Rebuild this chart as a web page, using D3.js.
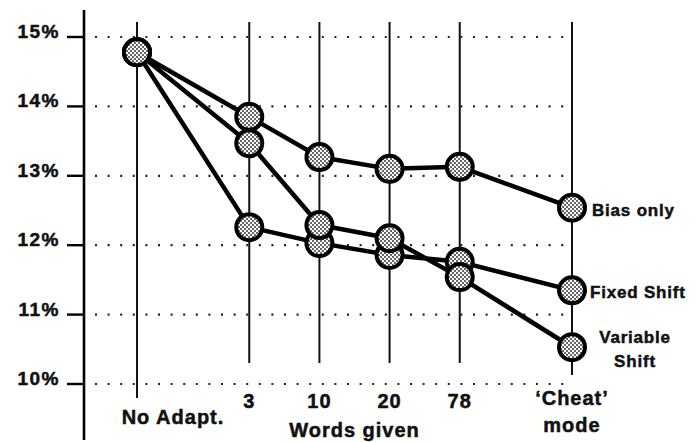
<!DOCTYPE html>
<html lang="en">
<head>
    <meta charset="UTF-8">
    <title>Words given vs error rate</title>
    <script src="https://d3js.org/d3.v7.min.js"></script>
    <style>
        body { margin: 0; background: #fff; }
        text {
            font-family: "Liberation Sans", Arial, Helvetica, sans-serif;
            font-weight: bold;
            fill: #111;
            stroke: #111;
            stroke-width: 0.5px;
        }
        .grid { stroke: #222; stroke-width: 2.2; stroke-dasharray: 2 10.6; }
        .vline { stroke: #111; stroke-width: 2; }
        .series { fill: none; stroke: #000; stroke-width: 4.5; stroke-linejoin: round; }
        .marker { stroke: #000; stroke-width: 4; }
    </style>
</head>
<body>
    <svg width="699" height="442"></svg>

    <script>
      // categories along the bottom (words given)
      const categories = ["No Adapt.", "3", "10", "20", "78", "Cheat"];
      // spacing of the category columns (first and last are wider apart)
      const slots = [0, 1.6, 2.6, 3.6, 4.6, 6.2];

      // error rates in %
      const fixedShift    = [14.78, 12.26, 12.03, 11.86, 11.76, 11.35];
      const variableShift = [14.78, 13.47, 12.29, 12.10, 11.54, 10.53];
      const biasOnly      = [14.78, 13.85, 13.27, 13.10, 13.13, 12.54];

      const yTicks = [10, 11, 12, 13, 14, 15];

      const svg = d3.select("svg");

      const x = d3.scaleLinear().domain([0, 6.2]).range([137, 572]);
      const y = d3.scaleLinear().domain([10, 15]).range([384, 37]);
      const colX = i => x(slots[i]);

      // stipple fill for the circles
      const pat = svg.append("defs").append("pattern")
          .attr("id", "dots")
          .attr("patternUnits", "userSpaceOnUse")
          .attr("width", 4).attr("height", 4);
      pat.append("rect").attr("width", 4).attr("height", 4).attr("fill", "#fff");
      pat.append("circle").attr("cx", 1).attr("cy", 1).attr("r", 1).attr("fill", "#333");
      pat.append("circle").attr("cx", 3).attr("cy", 3).attr("r", 1).attr("fill", "#333");

      // dotted horizontal grid
      svg.selectAll(".grid")
          .data(yTicks)
          .enter().append("line")
          .attr("class", "grid")
          .attr("x1", 95).attr("x2", colX(5))
          .attr("y1", d => y(d)).attr("y2", d => y(d));

      // vertical column lines
      svg.selectAll(".vline")
          .data(categories)
          .enter().append("line")
          .attr("class", "vline")
          .attr("x1", (d, i) => colX(i)).attr("x2", (d, i) => colX(i))
          .attr("y1", 22)
          .attr("y2", (d, i) => i === 0 ? 398 : (i === 5 ? 375 : 363));

      // y axis
      svg.append("line")
          .attr("x1", 84).attr("x2", 84).attr("y1", 10).attr("y2", 440)
          .attr("stroke", "#000").attr("stroke-width", 2.6);

      svg.selectAll(".ytick")
          .data(yTicks)
          .enter().append("line")
          .attr("class", "ytick")
          .attr("x1", 67).attr("x2", 84)
          .attr("y1", d => y(d)).attr("y2", d => y(d))
          .attr("stroke", "#000").attr("stroke-width", 2.4);

      svg.selectAll(".ylabel")
          .data(yTicks)
          .enter().append("text")
          .attr("class", "ylabel")
          .attr("x", 60)
          .attr("y", d => y(d) + 1)
          .attr("text-anchor", "end")
          .style("font-size", "19px")
          .style("letter-spacing", "1.5px")
          .text(d => d + "%");

      // x labels
      const xl = svg.append("g").style("font-size", "20px").style("letter-spacing", "1px");
      xl.append("text").attr("x", colX(0) + 36).attr("y", 424).attr("text-anchor", "middle").text(categories[0]);
      [1, 2, 3, 4].forEach(i => {
          xl.append("text").attr("x", colX(i)).attr("y", 408).attr("text-anchor", "middle").text(categories[i]);
      });
      xl.append("text").attr("x", colX(5)).attr("y", 405).attr("text-anchor", "middle").text("\u2018Cheat\u2019");
      xl.append("text").attr("x", colX(5)).attr("y", 432).attr("text-anchor", "middle").text("mode");
      xl.append("text").attr("x", (colX(2) + colX(3)) / 2).attr("y", 437).attr("text-anchor", "middle").text("Words given");

      // series lines, then markers (drawn in this order)
      const seriesList = [fixedShift, variableShift, biasOnly];
      const line = d3.line().x((d, i) => colX(i)).y(d => y(d));

      svg.selectAll(".series")
          .data(seriesList)
          .enter().append("path")
          .attr("class", "series")
          .attr("d", line);

      seriesList.forEach(s => {
          svg.append("g").selectAll("circle")
              .data(s)
              .enter().append("circle")
              .attr("class", "marker")
              .attr("cx", (d, i) => colX(i))
              .attr("cy", d => y(d))
              .attr("r", 13)
              .attr("fill", "url(#dots)");
      });

      // end labels
      const lg = svg.append("g").style("font-size", "17px").style("letter-spacing", "0.8px");
      lg.append("text").attr("x", colX(5) + 20).attr("y", y(biasOnly[5]) + 8).text("Bias only");
      lg.append("text").attr("x", colX(5) + 18).attr("y", y(fixedShift[5]) + 8).text("Fixed Shift");
      lg.append("text").attr("x", colX(5) + 63).attr("y", y(variableShift[5]) - 4).attr("text-anchor", "middle").text("Variable");
      lg.append("text").attr("x", colX(5) + 63).attr("y", y(variableShift[5]) + 20).attr("text-anchor", "middle").text("Shift");
    </script>
</body>
</html>
